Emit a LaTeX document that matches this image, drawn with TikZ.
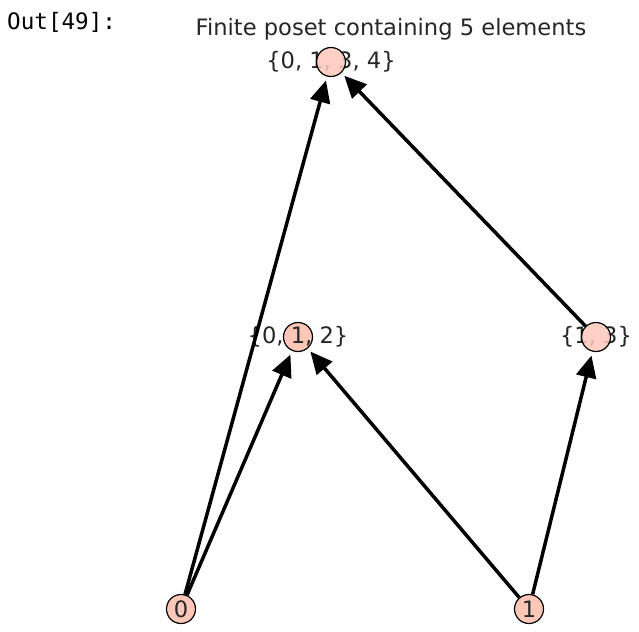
\documentclass[tikz,border=0pt]{standalone}
\usepackage{fontspec}
\setmainfont{DejaVu Sans}
\setmonofont{DejaVu Sans Mono}
\usetikzlibrary{arrows.meta}
\definecolor{vertC}{HTML}{FEC7B8}
\definecolor{inkC}{HTML}{000000}
\definecolor{textC}{HTML}{262626}

\begin{document}
\begin{tikzpicture}[
  x=1pt,
  y=-1pt,
  vert/.style={circle, draw=inkC, fill=vertC, line width=1.2pt,
    minimum size=29pt, inner sep=0pt},
  lbl/.style={font=\fontsize{22.6}{24}\selectfont, text=textC, inner sep=0pt},
  edge/.style={inkC, line width=3.5pt, shorten >=4pt, shorten <=0pt,
    -{Triangle[length=22pt, width=20pt]}}
]

\useasboundingbox (0,0) rectangle (639,631);

% Cell prompt and plot title.
\node[lbl, anchor=west, text=inkC, font=\ttfamily\fontsize{22.6}{24}\selectfont] (prompt) at (7,22) {Out[49]:};
\node[lbl] (title) at (391,29) {Finite poset containing 5 elements};

% Elements of the poset, bottom to top.
\node[lbl] (t0134) at (331,62) {\{0, 1, 3, 4\}};
\node[lbl] (t13) at (596,337) {\{1, 3\}};
\node[vert, fill opacity=0.85] (v0134) at (331,62) {};
\node[vert, fill opacity=0.85] (v13) at (596,337) {};
\node[vert] (v012) at (298,337) {};
\node[lbl] (t012) at (298,337) {\{0, 1, 2\}};
\node[vert] (v0) at (181,609) {};
\node[lbl] (t0) at (181,609) {0};
\node[vert] (v1) at (529,609) {};
\node[lbl] (t1) at (529,609) {1};

% Cover relations.
\draw[edge] (v0) -- (v0134);
\draw[edge] (v0) -- (v012);
\draw[edge] (v1) -- (v012);
\draw[edge] (v1) -- (v13);
\draw[edge] (v13) -- (v0134);

\end{tikzpicture}
\end{document}
